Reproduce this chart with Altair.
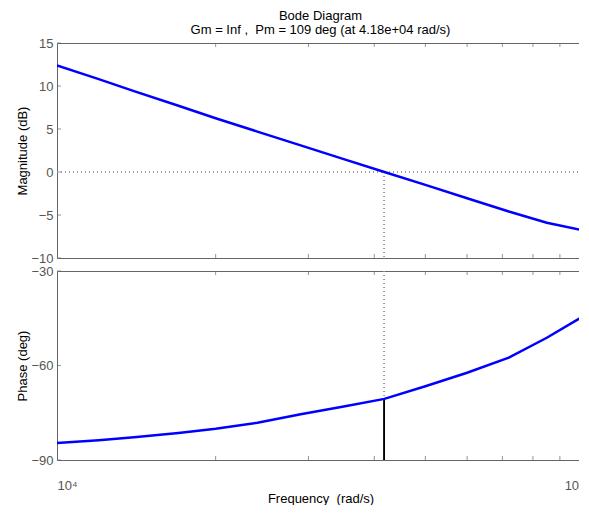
import altair as alt
import pandas as pd

# ---- data ----
freq = [1.0e4, 1.2e4, 1.4e4, 1.7e4, 2.0e4, 2.4e4, 2.9e4, 3.5e4, 4.18e4,
        5.0e4, 6.0e4, 7.2e4, 8.5e4, 1.0e5]
mag_db = [12.4, 10.8, 9.4, 7.7, 6.25, 4.7, 3.1, 1.5, 0.0,
          -1.5, -3.05, -4.6, -5.9, -6.8]
phase_deg = [-84.6, -83.7, -82.8, -81.4, -80.1, -78.2, -75.5, -73.0, -70.6,
             -66.6, -62.3, -57.5, -51.2, -44.2]

wc = 4.18e4            # gain crossover frequency
pm_phase = -71.0       # phase at crossover (Pm = 109 deg)
mag_ticks = [-10, -5, 0, 5, 10, 15]
phase_ticks = [-90, -60, -30]
freq_minor = [2e4, 3e4, 4e4, 5e4, 6e4, 7e4, 8e4, 9e4]
freq_labels = [1e4, 1e5]

FONT = "Liberation Sans"
FS = 13
AX = "#666666"
TXT = "#555555"

TOP_H, BOT_H, GAP = 215, 189, 13

df = pd.DataFrame({"freq": freq, "mag": mag_db, "phase": phase_deg})
minor_df = pd.DataFrame({"freq": freq_minor})
magt_df = pd.DataFrame({"mag": mag_ticks})
phat_df = pd.DataFrame({"phase": phase_ticks})

x_scale = alt.Scale(type="log", domain=[1e4, 1e5], nice=False)
mag_scale = alt.Scale(domain=[-10, 15], nice=False, zero=False)
phase_scale = alt.Scale(domain=[-90, -30], nice=False, zero=False)


def y_axis(title, values):
    return alt.Axis(values=values, title=title, ticks=False, domain=False, grid=False,
                    labelPadding=4, labelColor=TXT, labelFontSize=FS, labelFont=FONT,
                    titleFont=FONT, titleFontSize=FS, titleFontWeight="normal",
                    titleColor="black", titlePadding=1, minExtent=27, maxExtent=27)


mag_axis = y_axis("Magnitude (dB)", mag_ticks)
phase_axis = y_axis("Phase (deg)", phase_ticks)

x_axis_bottom = alt.Axis(values=freq_labels,
                         labelExpr="datum.value == 10000 ? '10\u2074' : '10\u2075'",
                         ticks=False, domain=False, grid=False, labelPadding=19,
                         labelColor=TXT, labelFontSize=FS, labelFont=FONT,
                         title="Frequency \u00a0(rad/s)", titleFont=FONT, titleFontSize=FS,
                         titleFontWeight="normal", titleColor="black", titlePadding=0)


def panel(field, yscale, yaxis, xaxis, tick_vals_df, ymin, ymax):
    X = alt.X("freq:Q", scale=x_scale, axis=xaxis)
    Y = alt.Y(f"{field}:Q", scale=yscale, axis=yaxis)
    line = alt.Chart(df).mark_line(color="#0000ff", strokeWidth=2.5, clip=True).encode(x=X, y=Y)
    tb = alt.Chart(minor_df).mark_tick(orient="vertical", size=4, thickness=1, color=AX, yOffset=-2).encode(
        x=X, y=alt.Y(datum=ymin, scale=yscale, axis=yaxis))
    tt = alt.Chart(minor_df).mark_tick(orient="vertical", size=4, thickness=1, color=AX, yOffset=2).encode(
        x=X, y=alt.Y(datum=ymax, scale=yscale, axis=yaxis))
    tl = alt.Chart(tick_vals_df).mark_tick(orient="horizontal", size=4, thickness=1, color=AX, xOffset=2).encode(
        x=alt.X(datum=1e4, scale=x_scale, axis=xaxis), y=Y)
    tr = alt.Chart(tick_vals_df).mark_tick(orient="horizontal", size=4, thickness=1, color=AX, xOffset=-2).encode(
        x=alt.X(datum=1e5, scale=x_scale, axis=xaxis), y=Y)
    return [tb, tt, tl, tr, line]


# ---- top: magnitude ----
top_layers = panel("mag", mag_scale, mag_axis, None, magt_df, -10, 15)
zero_line = alt.Chart(df).mark_rule(color="#999999", strokeDash=[1, 3], strokeWidth=1).encode(
    x=alt.X(datum=1e4, scale=x_scale, axis=None), x2=alt.X2(datum=1e5),
    y=alt.Y(datum=0, scale=mag_scale, axis=mag_axis))
vdot_top = alt.Chart(df).mark_rule(color="#999999", strokeDash=[1, 3], strokeWidth=1).encode(
    x=alt.X(datum=wc, scale=x_scale, axis=None),
    y=alt.Y(datum=0, scale=mag_scale, axis=mag_axis), y2=alt.Y2(datum=-10))

top = alt.layer(zero_line, vdot_top, *top_layers).properties(
    width=527, height=TOP_H,
    title=alt.TitleParams(text="Bode Diagram",
                          subtitle="Gm = Inf ,\u00a0 Pm = 109 deg (at 4.18e+04 rad/s)",
                          font=FONT, subtitleFont=FONT, fontSize=FS, subtitleFontSize=FS,
                          fontWeight="normal", color="black", subtitleColor="black",
                          anchor="middle", frame="group", offset=0, subtitlePadding=1))

# ---- bottom: phase ----
bot_layers = panel("phase", phase_scale, phase_axis, x_axis_bottom, phat_df, -90, -30)
vdot_bot = alt.Chart(df).mark_rule(color="#999999", strokeDash=[1, 3], strokeWidth=1).encode(
    x=alt.X(datum=wc, scale=x_scale, axis=x_axis_bottom),
    y=alt.Y(datum=-30, scale=phase_scale, axis=phase_axis), y2=alt.Y2(datum=pm_phase))
vsolid_bot = alt.Chart(df).mark_rule(color="black", strokeWidth=1).encode(
    x=alt.X(datum=wc, scale=x_scale, axis=x_axis_bottom),
    y=alt.Y(datum=pm_phase, scale=phase_scale, axis=phase_axis), y2=alt.Y2(datum=-90))

bottom = alt.layer(vdot_bot, vsolid_bot, *bot_layers).properties(width=527, height=BOT_H)

chart = alt.vconcat(top, bottom, spacing=GAP, bounds="flush").properties(
    autosize=alt.AutoSizeParams(type="none"),
    padding={"left": 49, "top": 35, "right": -5, "bottom": 45 + TOP_H + GAP + BOT_H},
    background="white",
).configure_view(stroke=AX, strokeWidth=1)

chart.save("out.html", embed_options={"renderer": "svg", "actions": False})
